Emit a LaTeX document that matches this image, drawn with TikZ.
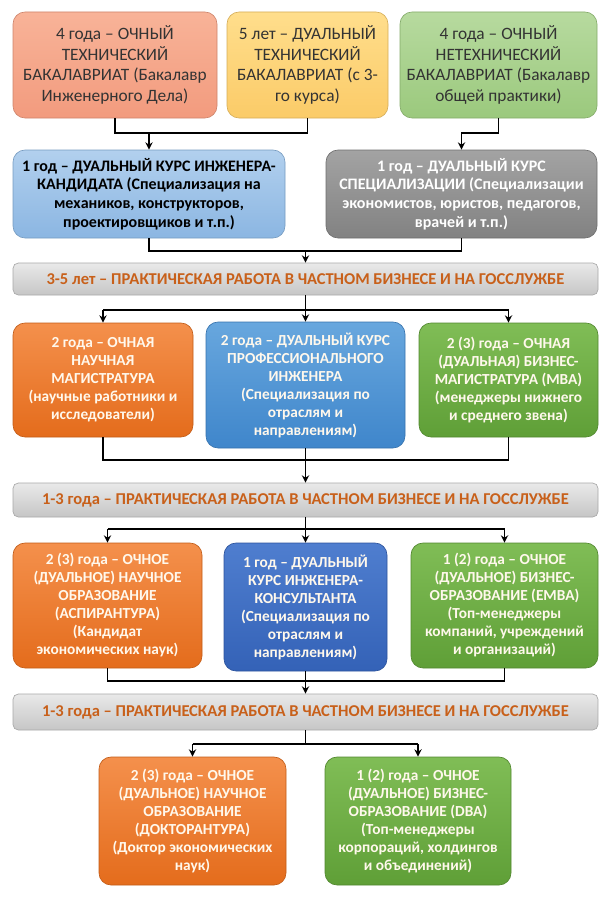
\documentclass[tikz,border=0pt]{standalone}
\usepackage{fontspec}
\setmainfont{Carlito}
\usetikzlibrary{arrows.meta}

\definecolor{salmonT}{HTML}{F8B398}
\definecolor{salmonB}{HTML}{F29B7E}
\definecolor{goldT}{HTML}{FFDE8C}
\definecolor{goldB}{HTML}{FBCB68}
\definecolor{mintT}{HTML}{B7DA9F}
\definecolor{mintB}{HTML}{9BC97D}
\definecolor{skyT}{HTML}{B2D0EE}
\definecolor{skyB}{HTML}{8BB6E2}
\definecolor{greyT}{HTML}{A3A3A3}
\definecolor{greyB}{HTML}{828282}
\definecolor{orangeT}{HTML}{F4904C}
\definecolor{orangeB}{HTML}{E46C1C}
\definecolor{blueT}{HTML}{68A7DE}
\definecolor{blueB}{HTML}{3F86CB}
\definecolor{greenT}{HTML}{80BD56}
\definecolor{greenB}{HTML}{5F9F37}
\definecolor{navyT}{HTML}{4F7ECF}
\definecolor{navyB}{HTML}{3462B7}
\definecolor{barT}{HTML}{E9E9E9}
\definecolor{barB}{HTML}{C6C6C6}
\definecolor{barText}{HTML}{C8601A}
\definecolor{darkText}{HTML}{333333}
\definecolor{lightText}{HTML}{FFF8EC}

\begin{document}
\begin{tikzpicture}[x=0.75pt,y=-0.75pt,
	sz/.style 2 args={minimum width=#1*0.75pt,minimum height=#2*0.75pt},
	tint/.style 2 args={top color=#1,bottom color=#2,draw=#2!85!black},
	box/.style={rectangle,rounded corners=9pt,align=center,inner sep=1pt,line width=0.5pt},
	lite/.style={box,font=\fontsize{13}{15.5}\selectfont,text=darkText},
	dark/.style={box,font=\bfseries\fontsize{11.5}{13.5}\selectfont,text=lightText},
	bar/.style={box,rounded corners=4pt,tint={barT}{barB},sz={585}{#1},
		font=\bfseries\fontsize{12.4}{14}\selectfont,text=barText},
	line/.style={line width=1.1pt},
	arr/.style={line,-{Stealth[length=5.5pt,width=5.5pt]}}]
	\useasboundingbox (0,0) rectangle (605,899);
	\pgfmathsetmacro\MID{305.5}

	% bachelor level
	\node[lite,tint={salmonT}{salmonB},sz={204}{106}] (bachTech) at (115,65)
		{4 года – ОЧНЫЙ\\ТЕХНИЧЕСКИЙ\\БАКАЛАВРИАТ (Бакалавр\\Инженерного Дела)};
	\node[lite,tint={goldT}{goldB},sz={161}{106}] (bachDual) at (307.5,65)
		{5 лет – ДУАЛЬНЫЙ\\ТЕХНИЧЕСКИЙ\\БАКАЛАВРИАТ (с 3-\\го курса)};
	\node[lite,tint={mintT}{mintB},sz={197}{106}] (bachGen) at (498.5,65)
		{4 года – ОЧНЫЙ\\НЕТЕХНИЧЕСКИЙ\\БАКАЛАВРИАТ (Бакалавр\\общей практики)};

	\node[box,tint={skyT}{skyB},sz={272}{88},text=black,
		font=\bfseries\fontsize{12}{14}\selectfont] (candEng) at (149,194)
		{1 год – ДУАЛЬНЫЙ КУРС ИНЖЕНЕРА-\\КАНДИДАТА (Специализация на\\механиков, конструкторов,\\проектировщиков и т.п.)};
	\node[box,tint={greyT}{greyB},sz={271}{88},text=white,
		font=\bfseries\fontsize{12}{14}\selectfont] (specCourse) at (461.5,194)
		{1 год – ДУАЛЬНЫЙ КУРС\\СПЕЦИАЛИЗАЦИИ (Специализации\\экономистов, юристов, педагогов,\\врачей и т.п.)};

	\node[bar=32] (work1) at (\MID,279)
		{3-5 лет – ПРАКТИЧЕСКАЯ РАБОТА В ЧАСТНОМ БИЗНЕСЕ И НА ГОССЛУЖБЕ};

	% master level
	\node[dark,tint={orangeT}{orangeB},sz={180}{114}] (masterSci) at (103,380)
		{2 года – ОЧНАЯ\\НАУЧНАЯ\\МАГИСТРАТУРА\\(научные работники и\\исследователи)};
	\node[dark,tint={blueT}{blueB},sz={199}{126}] (profEng) at (\MID,385)
		{2 года – ДУАЛЬНЫЙ КУРС\\ПРОФЕССИОНАЛЬНОГО\\ИНЖЕНЕРА\\(Специализация по\\отраслям и\\направлениям)};
	\node[dark,tint={greenT}{greenB},sz={179}{114}] (mba) at (508.5,380)
		{2 (3) года – ОЧНАЯ\\(ДУАЛЬНАЯ) БИЗНЕС-\\МАГИСТРАТУРА (МВА)\\(менеджеры нижнего\\и среднего звена)};

	\node[bar=34] (work2) at (\MID,500)
		{1-3 года – ПРАКТИЧЕСКАЯ РАБОТА В ЧАСТНОМ БИЗНЕСЕ И НА ГОССЛУЖБЕ};

	% candidate level
	\node[dark,tint={orangeT}{orangeB},sz={189}{125}] (phdCand) at (107.5,605.5)
		{2 (3) года – ОЧНОЕ\\(ДУАЛЬНОЕ) НАУЧНОЕ\\ОБРАЗОВАНИЕ\\(АСПИРАНТУРА)\\(Кандидат\\экономических наук)};
	\node[dark,tint={navyT}{navyB},sz={163}{128}] (consEng) at (\MID,607)
		{1 год – ДУАЛЬНЫЙ\\КУРС ИНЖЕНЕРА-\\КОНСУЛЬТАНТА\\(Специализация по\\отраслям и\\направлениям)};
	\node[dark,tint={greenT}{greenB},sz={187}{125}] (emba) at (504.5,605.5)
		{1 (2) года – ОЧНОЕ\\(ДУАЛЬНОЕ) БИЗНЕС-\\ОБРАЗОВАНИЕ (ЕМВА)\\(Топ-менеджеры\\компаний, учреждений\\и организаций)};

	\node[bar=36] (work3) at (\MID,712)
		{1-3 года – ПРАКТИЧЕСКАЯ РАБОТА В ЧАСТНОМ БИЗНЕСЕ И НА ГОССЛУЖБЕ};

	% doctor level
	\node[dark,tint={orangeT}{orangeB},sz={187}{128}] (docSci) at (192.5,821)
		{2 (3) года – ОЧНОЕ\\(ДУАЛЬНОЕ) НАУЧНОЕ\\ОБРАЗОВАНИЕ\\(ДОКТОРАНТУРА)\\(Доктор экономических\\наук)};
	\node[dark,tint={greenT}{greenB},sz={186}{128}] (dba) at (418,821)
		{1 (2) года – ОЧНОЕ\\(ДУАЛЬНОЕ) БИЗНЕС-\\ОБРАЗОВАНИЕ (DBA)\\(Топ-менеджеры\\корпораций, холдингов\\и объединений)};

	% junction levels
	\coordinate (y1) at (0,133);
	\coordinate (y2) at (0,251);
	\coordinate (y3) at (0,310);
	\coordinate (y4) at (0,460);
	\coordinate (y5) at (0,529);
	\coordinate (y6) at (0,681);
	\coordinate (y7) at (0,744);

	\draw[line] (bachTech.south) |- (bachDual.south |- y1) -- (bachDual.south);
	\draw[arr] (candEng.north |- y1) -- (candEng.north);
	\draw[arr] (bachGen.south) |- (specCourse.north |- y1) -- (specCourse.north);

	\draw[line] (candEng.south) |- (specCourse.south |- y2) -- (specCourse.south);
	\draw[arr] (work1.north |- y2) -- (work1.north);

	\draw[line] (work1.south) -- (work1.south |- y3);
	\draw[line] (masterSci.north |- y3) -- (mba.north |- y3);
	\foreach \n in {masterSci,profEng,mba}
		\draw[arr] (\n.north |- y3) -- (\n.north);

	\draw[line] (masterSci.south) |- (mba.south |- y4) -- (mba.south);
	\draw[arr] (profEng.south) -- (work2.north);

	\draw[line] (work2.south) -- (work2.south |- y5);
	\draw[line] (phdCand.north |- y5) -- (emba.north |- y5);
	\foreach \n in {phdCand,consEng,emba}
		\draw[arr] (\n.north |- y5) -- (\n.north);

	\draw[line] (phdCand.south) |- (emba.south |- y6) -- (emba.south);
	\draw[arr] (consEng.south) -- (work3.north);

	\draw[line] (work3.south) -- (work3.south |- y7);
	\draw[line] (docSci.north |- y7) -- (dba.north |- y7);
	\foreach \n in {docSci,dba}
		\draw[arr] (\n.north |- y7) -- (\n.north);
\end{tikzpicture}
\end{document}
